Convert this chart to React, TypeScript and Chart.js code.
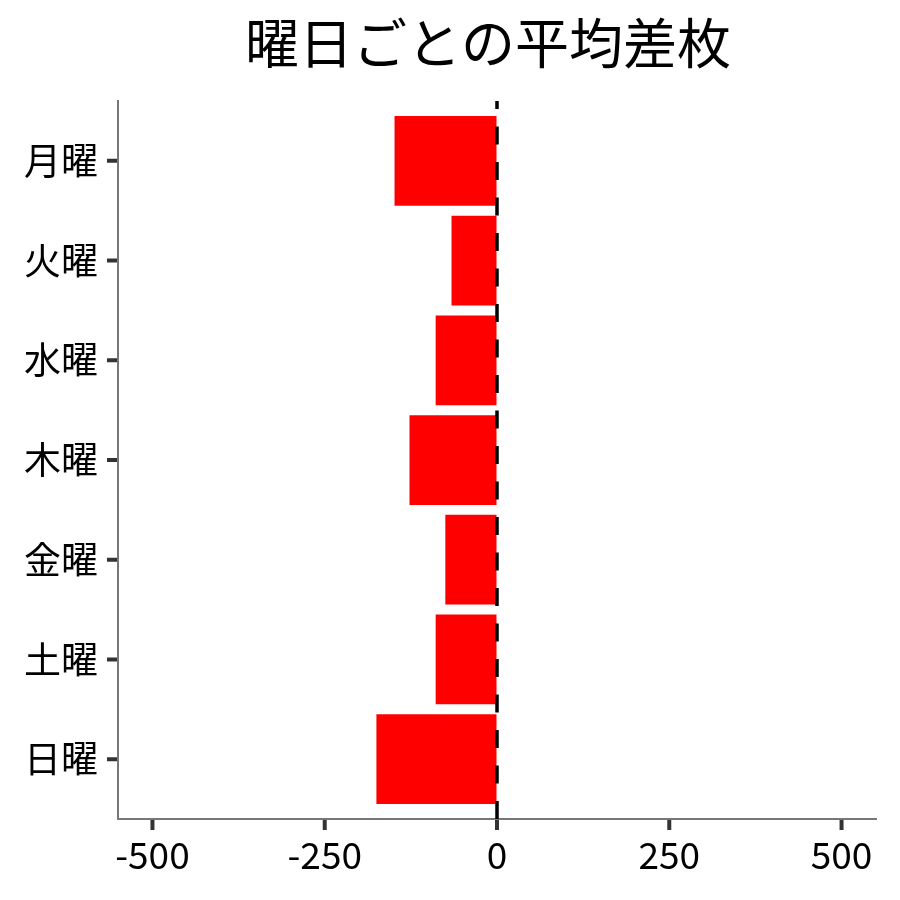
import React, { useEffect, useRef } from 'react';
import { Chart, registerables, Plugin } from 'chart.js';

Chart.register(...registerables);

const TITLE = '曜日ごとの平均差枚';
const DAYS = ['月曜', '火曜', '水曜', '木曜', '金曜', '土曜', '日曜'];
const AVG_DIFF = [-148.7, -66, -89, -127, -75, -89, -175];
const X_TICKS = [-500, -250, 0, 250, 500];
const X_LIMIT = 550;
const ZERO_LINE = 0;

const FONT = "'Noto Sans CJK JP', 'Noto Sans', sans-serif";
const TICK_LEN = 11;

// dashed reference line at zero, drawn from the bottom of the panel upward
const zeroLinePlugin: Plugin<'bar'> = {
  id: 'zeroLine',
  afterDatasetsDraw(chart) {
    const { ctx, chartArea, scales } = chart;
    const x = scales.x.getPixelForValue(ZERO_LINE);
    ctx.save();
    ctx.strokeStyle = '#000';
    ctx.lineWidth = 3.5;
    ctx.setLineDash([18, 17.5]);
    ctx.beginPath();
    ctx.moveTo(x, chartArea.bottom);
    ctx.lineTo(x, chartArea.top);
    ctx.stroke();
    ctx.restore();
  },
};

// thick ggplot-style tick marks outside the panel
const tickMarksPlugin: Plugin<'bar'> = {
  id: 'tickMarks',
  afterDraw(chart) {
    const { ctx, chartArea, scales } = chart;
    ctx.save();
    ctx.strokeStyle = '#333';
    ctx.lineWidth = 4;
    ctx.beginPath();
    scales.x.ticks.forEach(t => {
      const px = scales.x.getPixelForValue(t.value);
      ctx.moveTo(px, chartArea.bottom + 1);
      ctx.lineTo(px, chartArea.bottom + TICK_LEN);
    });
    scales.y.ticks.forEach(t => {
      const py = scales.y.getPixelForValue(t.value);
      ctx.moveTo(chartArea.left - 1, py);
      ctx.lineTo(chartArea.left - TICK_LEN, py);
    });
    ctx.stroke();
    ctx.restore();
  },
};

// title over the panel, nudged a little left like the original
const titlePlugin: Plugin<'bar'> = {
  id: 'panelTitle',
  afterDraw(chart) {
    const { ctx, chartArea } = chart;
    ctx.save();
    ctx.font = `54px ${FONT}`;
    ctx.fillStyle = '#000';
    ctx.textAlign = 'center';
    ctx.textBaseline = 'middle';
    ctx.fillText(TITLE, (chartArea.left + chartArea.right) / 2 - 9, chartArea.top - 58);
    ctx.restore();
  },
};

const App: React.FC = () => {
  const chartRef = useRef<HTMLCanvasElement | null>(null);
  const chartInstance = useRef<Chart<'bar'> | null>(null);

  useEffect(() => {
    document.body.style.margin = '0';
    if (!chartRef.current) return;
    if (chartInstance.current) chartInstance.current.destroy();

    const ctx = chartRef.current.getContext('2d');
    if (!ctx) return;

    const axisGrid = {
      display: true,
      drawOnChartArea: false,
      drawTicks: true,
      offset: false,
      tickLength: TICK_LEN,
      color: 'rgba(0,0,0,0)',
      tickColor: 'rgba(0,0,0,0)',
    };

    chartInstance.current = new Chart(ctx, {
      type: 'bar',
      data: {
        datasets: [{
          data: AVG_DIFF.map((v, i) => ({ x: v, y: i })) as any,
          backgroundColor: '#FF0000',
          borderWidth: 0,
          barPercentage: 0.9,
          categoryPercentage: 1,
        }],
      },
      options: {
        indexAxis: 'y',
        animation: false,
        responsive: false,
        layout: { padding: { left: 0, right: 24, top: 101, bottom: 0 } },
        plugins: {
          legend: { display: false },
          tooltip: { enabled: false },
          title: { display: false },
        },
        scales: {
          x: {
            type: 'linear',
            min: -X_LIMIT,
            max: X_LIMIT,
            offset: false,
            afterBuildTicks: (axis) => {
              axis.ticks = X_TICKS.map(v => ({ value: v }));
            },
            afterFit: (axis) => {
              axis.height = 81;
            },
            grid: axisGrid,
            border: { display: true, color: '#777', width: 2 },
            ticks: {
              color: '#000',
              padding: 3,
              font: { family: FONT, size: 37 },
              maxRotation: 0,
            },
          },
          y: {
            type: 'linear',
            reverse: true,
            offset: false,
            min: -0.6,
            max: DAYS.length - 0.4,
            afterBuildTicks: (axis) => {
              axis.ticks = DAYS.map((_, i) => ({ value: i }));
            },
            afterFit: (axis) => {
              axis.width = 118;
            },
            grid: axisGrid,
            border: { display: true, color: '#777', width: 2 },
            ticks: {
              color: '#000',
              padding: 9,
              font: { family: FONT, size: 37 },
              callback: (value) => DAYS[Number(value)] ?? '',
            },
          },
        },
      },
      plugins: [zeroLinePlugin, tickMarksPlugin, titlePlugin],
    });

    return () => {
      if (chartInstance.current) {
        chartInstance.current.destroy();
        chartInstance.current = null;
      }
    };
  }, []);

  return (
    <div style={{ width: 900, height: 900, background: '#fff' }}>
      <canvas ref={chartRef} width={900} height={900} style={{ width: 900, height: 900 }}></canvas>
    </div>
  );
};

export default App;
